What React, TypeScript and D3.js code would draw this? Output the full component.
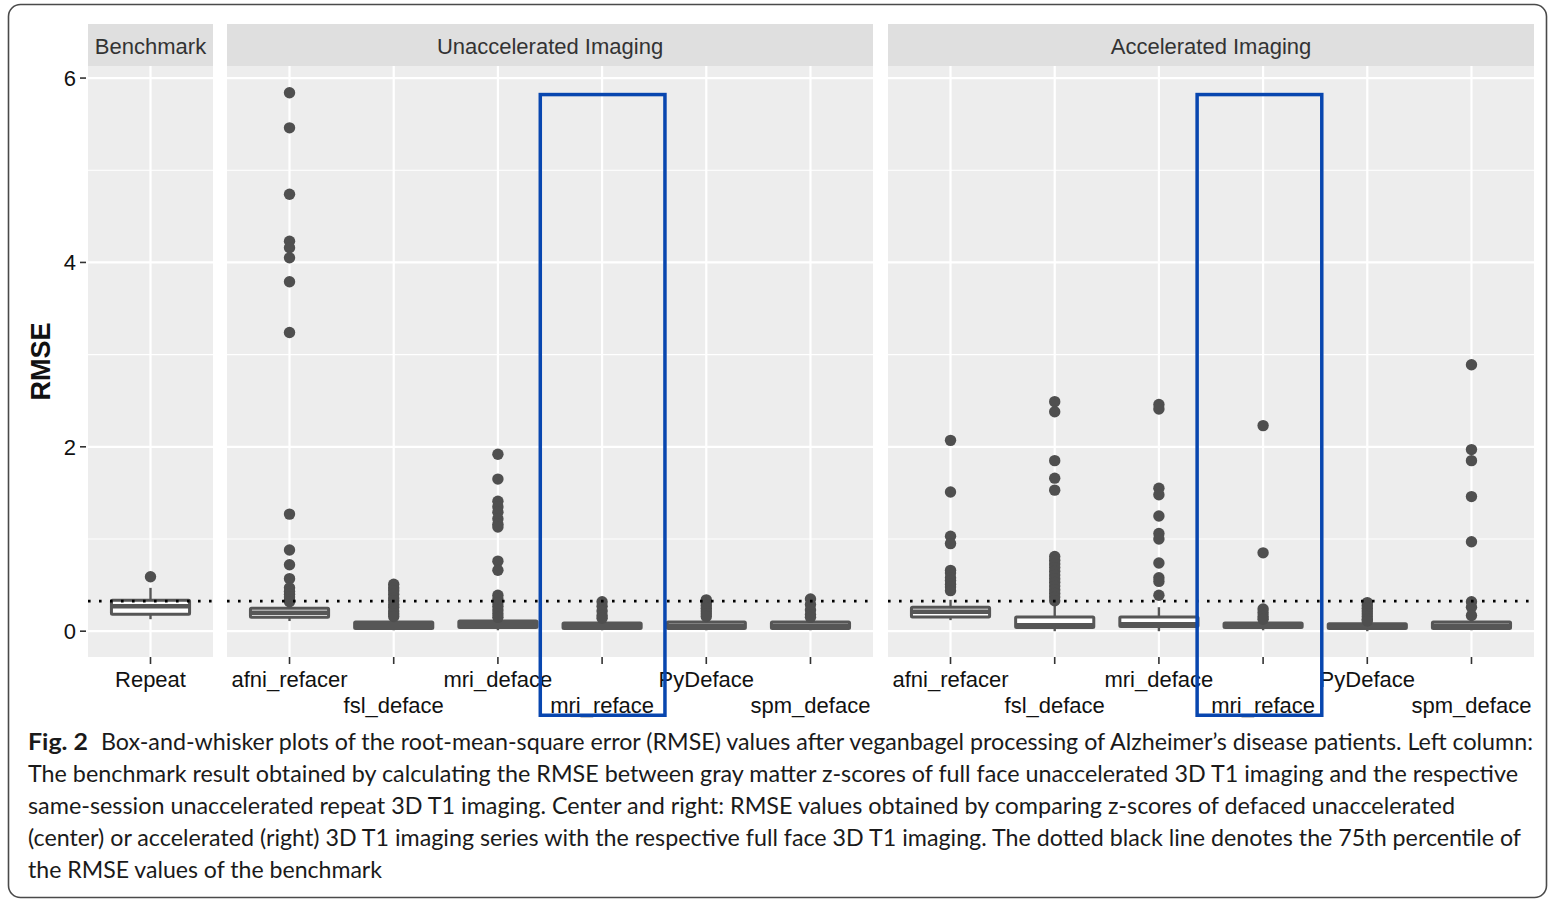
import React from "react";
import * as d3 from "d3";

// ---------- data ----------
const panelTitles = ["Benchmark", "Unaccelerated Imaging", "Accelerated Imaging"];
const benchmarkCats = ["Repeat"];
const methodCats = ["afni_refacer", "fsl_deface", "mri_deface", "mri_reface", "PyDeface", "spm_deface"];
const yTicks = [0, 2, 4, 6];
const yMinor = [1, 3, 5];
const benchmarkP75 = 0.326;
const highlightCat = "mri_reface";
// highlight frame extent in category units (left, right) per panel, and top value
const highlightExtent: ([number, number] | null)[] = [null, [-0.61, 0.62], [-0.65, 0.58]];
const highlightTop = 5.84;

// box stats: [whiskerLow, q1, median, q3, whiskerHigh]
const benchBox = [[0.13, 0.185, 0.27, 0.335, 0.47]];
const benchOut = [[0.59]];

const unaccBox = [
  [0.11, 0.15, 0.2, 0.25, 0.3],
  [0.01, 0.03, 0.07, 0.1, 0.14],
  [0.01, 0.04, 0.08, 0.11, 0.14],
  [0.01, 0.03, 0.06, 0.09, 0.12],
  [0.01, 0.03, 0.06, 0.1, 0.13],
  [0.01, 0.03, 0.06, 0.1, 0.13],
];
const unaccOut = [
  [5.84, 5.46, 4.74, 4.23, 4.16, 4.05, 3.79, 3.24, 1.27, 0.88, 0.72, 0.57, 0.47, 0.43, 0.4, 0.37, 0.34, 0.32],
  [0.51, 0.47, 0.44, 0.4, 0.36, 0.33, 0.29, 0.26, 0.22, 0.19, 0.16],
  [1.92, 1.65, 1.41, 1.35, 1.29, 1.22, 1.16, 1.13, 0.76, 0.66, 0.39, 0.35, 0.31, 0.27, 0.23, 0.19, 0.15],
  [0.32, 0.27, 0.22, 0.17, 0.14],
  [0.34, 0.31, 0.28, 0.25, 0.22, 0.19, 0.16],
  [0.35, 0.29, 0.23, 0.18, 0.15],
];

const accBox = [
  [0.12, 0.155, 0.21, 0.26, 0.34],
  [0.0, 0.04, 0.065, 0.155, 0.29],
  [0.0, 0.05, 0.075, 0.155, 0.26],
  [0.01, 0.04, 0.06, 0.09, 0.11],
  [0.0, 0.03, 0.05, 0.08, 0.1],
  [0.01, 0.03, 0.06, 0.1, 0.14],
];
const accOut = [
  [2.07, 1.51, 1.03, 0.95, 0.66, 0.63, 0.58, 0.55, 0.51, 0.48, 0.44],
  [2.49, 2.38, 1.85, 1.66, 1.53, 0.81, 0.77, 0.73, 0.69, 0.65, 0.61, 0.57, 0.53, 0.49, 0.45, 0.41, 0.37, 0.33],
  [2.46, 2.41, 1.55, 1.48, 1.25, 1.06, 1.0, 0.74, 0.58, 0.54, 0.39],
  [2.23, 0.85, 0.24, 0.2, 0.16, 0.13],
  [0.31, 0.28, 0.25, 0.22, 0.19, 0.16, 0.13, 0.11],
  [2.89, 1.97, 1.85, 1.46, 0.97, 0.32, 0.26, 0.17],
];

const captionBold = "Fig. 2";
const captionLines = [
  "Box-and-whisker plots of the root-mean-square error (RMSE) values after veganbagel processing of Alzheimer’s disease patients. Left column:",
  "The benchmark result obtained by calculating the RMSE between gray matter z-scores of full face unaccelerated 3D T1 imaging and the respective",
  "same-session unaccelerated repeat 3D T1 imaging. Center and right: RMSE values obtained by comparing z-scores of defaced unaccelerated",
  "(center) or accelerated (right) 3D T1 imaging series with the respective full face 3D T1 imaging. The dotted black line denotes the 75th percentile of",
  "the RMSE values of the benchmark",
];

// ---------- layout ----------
const W = 1548;
const H = 901;
const panelTop = 66;
const panelBottom = 657;
const stripTop = 24;
const panelRanges: [number, number][] = [
  [88, 213],
  [227, 873],
  [888, 1534],
];
const FONT = "'Liberation Sans', Arial, Helvetica, sans-serif";
const CAPFONT = "Lato, 'Open Sans', sans-serif";
const boxColor = "#565656";
const HL_STROKE = 3.5;

const yScale = d3.scaleLinear().domain([-0.28, 6.12]).range([panelBottom, 67]);

const panels = [
  { title: panelTitles[0], cats: benchmarkCats, box: benchBox, out: benchOut },
  { title: panelTitles[1], cats: methodCats, box: unaccBox, out: unaccOut },
  { title: panelTitles[2], cats: methodCats, box: accBox, out: accOut },
];

const captionWidths = [1432, 1490, 1427, 1493, 354];

export default function App() {
  return (
    <svg
      width={W}
      height={H}
      style={{ position: "absolute", left: 0, top: 0, display: "block", background: "#fff" }}
    >
      <rect x={8.5} y={4.5} width={1538} height={893} rx={12} fill="#fff" stroke="#4a4a4a" strokeWidth={1.6} />

      {/* y axis */}
      {yTicks.map((t) => (
        <g key={"yt" + t}>
          <line x1={80} x2={86} y1={yScale(t)} y2={yScale(t)} stroke="#333" strokeWidth={1.6} />
          <text x={76} y={yScale(t) + 8} textAnchor="end" fontFamily={FONT} fontSize={22} fill="#111">
            {t}
          </text>
        </g>
      ))}
      <text
        transform={`translate(50, ${(panelTop + panelBottom) / 2}) rotate(-90)`}
        textAnchor="middle"
        fontFamily={FONT}
        fontSize={27}
        fontWeight="bold"
        fill="#111"
      >
        RMSE
      </text>

      {panels.map((p, pi) => {
        const [x0, x1] = panelRanges[pi];
        const xs = d3.scalePoint<string>().domain(p.cats).range([x0, x1]).padding(0.6);
        const step = xs.step();
        const bw = step * 0.75;
        const ext = highlightExtent[pi];
        return (
          <g key={p.title}>
            <rect x={x0} y={panelTop} width={x1 - x0} height={panelBottom - panelTop} fill="#EDEDED" />
            {yMinor.map((t) => (
              <line key={"m" + t} x1={x0} x2={x1} y1={yScale(t)} y2={yScale(t)} stroke="#fff" strokeWidth={1.2} />
            ))}
            {yTicks.map((t) => (
              <line key={"g" + t} x1={x0} x2={x1} y1={yScale(t)} y2={yScale(t)} stroke="#fff" strokeWidth={2.2} />
            ))}
            {p.cats.map((c) => (
              <line key={"v" + c} x1={xs(c)} x2={xs(c)} y1={panelTop} y2={panelBottom} stroke="#fff" strokeWidth={2.2} />
            ))}

            {/* boxes */}
            {p.cats.map((c, ci) => {
              const [lo, q1, med, q3, hi] = p.box[ci];
              const cx = xs(c) as number;
              return (
                <g key={"b" + c}>
                  <line x1={cx} x2={cx} y1={yScale(q3)} y2={yScale(hi)} stroke={boxColor} strokeWidth={2.4} />
                  <line x1={cx} x2={cx} y1={yScale(q1)} y2={yScale(lo)} stroke={boxColor} strokeWidth={2.4} />
                  <rect
                    x={cx - bw / 2}
                    y={yScale(q3)}
                    width={bw}
                    height={yScale(q1) - yScale(q3)}
                    fill="#fff"
                    stroke={boxColor}
                    strokeWidth={3}
                    rx={1}
                  />
                  <line
                    x1={cx - bw / 2}
                    x2={cx + bw / 2}
                    y1={yScale(med)}
                    y2={yScale(med)}
                    stroke={boxColor}
                    strokeWidth={4.5}
                  />
                  {p.out[ci].map((v, oi) => (
                    <circle key={oi} cx={cx} cy={yScale(v)} r={5.7} fill="#4f4f4f" />
                  ))}
                </g>
              );
            })}

            {/* benchmark 75th percentile */}
            <line
              x1={x0}
              x2={x1}
              y1={yScale(benchmarkP75)}
              y2={yScale(benchmarkP75)}
              stroke="#000"
              strokeWidth={2.6}
              strokeDasharray="2.6 8.4"
            />

            {/* strip */}
            <rect x={x0} y={stripTop} width={x1 - x0} height={panelTop - stripTop} fill="#DFDFDF" />
            <text x={(x0 + x1) / 2} y={54} textAnchor="middle" fontFamily={FONT} fontSize={22} fill="#333">
              {p.title}
            </text>

            {/* x axis */}
            {p.cats.map((c, ci) => (
              <g key={"xt" + c}>
                <line x1={xs(c)} x2={xs(c)} y1={657} y2={664} stroke="#333" strokeWidth={1.6} />
                <text
                  x={xs(c)}
                  y={ci % 2 === 0 ? 687 : 713}
                  textAnchor="middle"
                  fontFamily={FONT}
                  fontSize={22}
                  fill="#111"
                >
                  {c}
                </text>
              </g>
            ))}

            {/* highlight */}
            {ext && (
              <rect
                x={(xs(highlightCat) as number) + ext[0] * step + HL_STROKE / 2}
                y={yScale(highlightTop) + HL_STROKE / 2}
                width={(ext[1] - ext[0]) * step - HL_STROKE}
                height={717 - HL_STROKE / 2 - yScale(highlightTop) - HL_STROKE / 2}
                fill="none"
                stroke="#0846AF"
                strokeWidth={HL_STROKE}
              />
            )}
          </g>
        );
      })}

      {/* caption */}
      <text
        x={28}
        y={750}
        fontFamily={CAPFONT}
        fontSize={23}
        fontWeight="bold"
        fill="#1a1a1a"
        textLength={60}
        lengthAdjust="spacingAndGlyphs"
      >
        {captionBold}
      </text>
      {captionLines.map((l, i) => (
        <text
          key={i}
          x={i === 0 ? 101 : 28}
          y={750 + i * 32}
          fontFamily={CAPFONT}
          fontSize={23}
          fill="#1a1a1a"
          textLength={captionWidths[i]}
          lengthAdjust="spacingAndGlyphs"
        >
          {l}
        </text>
      ))}
    </svg>
  );
}
